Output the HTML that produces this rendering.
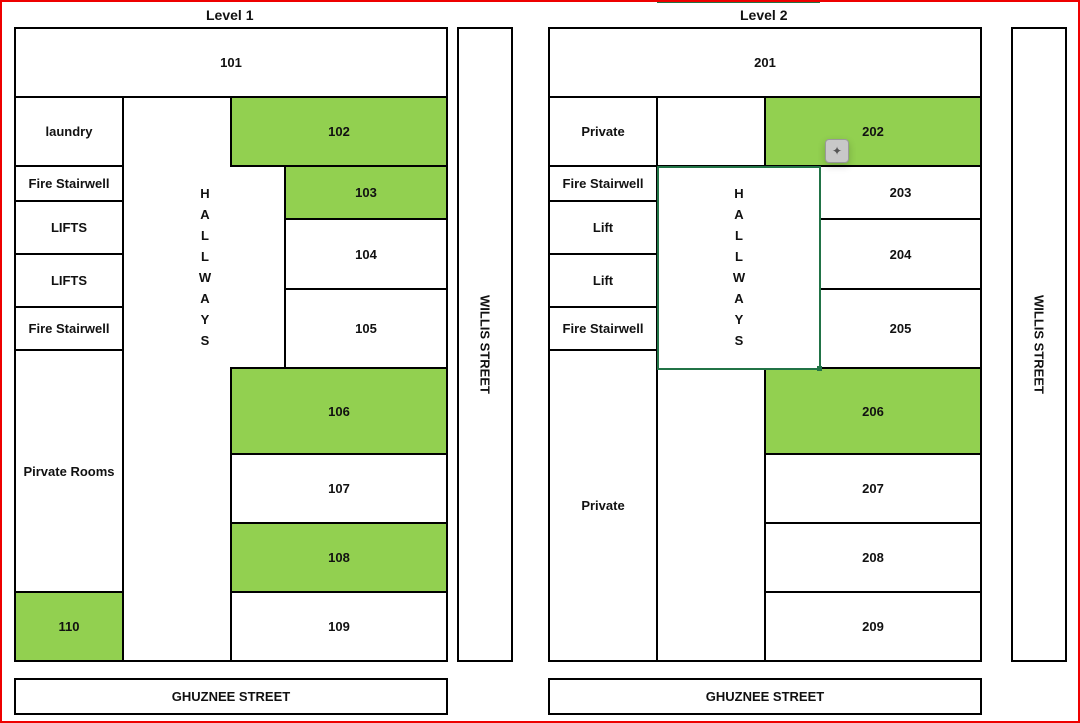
<!DOCTYPE html>
<html><head><meta charset="utf-8"><style>
body{margin:0;width:1080px;height:723px;background:#fff;position:relative;overflow:hidden;font-family:"Liberation Sans",Arial,sans-serif;}
.b{position:absolute;border:2px solid #000;box-sizing:border-box;display:flex;align-items:center;justify-content:center;font-weight:bold;font-size:13px;color:#111;background:#fff;text-align:center;}
.g{background:#92d050;}
.t{position:absolute;font-weight:bold;font-size:14px;color:#111;}
.hw{position:absolute;font-weight:bold;font-size:13px;line-height:21px;text-align:center;width:20px;color:#111;}
.v{writing-mode:vertical-rl;}
</style></head><body>
<div style="position:absolute;left:0;top:0;width:1080px;height:723px;border:2px solid #e00;box-sizing:border-box;z-index:10;pointer-events:none"></div>
<div style="position:absolute;left:657px;top:0;width:163px;height:3px;background:#217346"></div>
<div class="t" style="left:206px;top:7px">Level 1</div>
<div class="t" style="left:740px;top:7px">Level 2</div>

<!-- Level 1 -->
<div class="b" style="left:14px;top:27px;width:434px;height:71px">101</div>
<div class="b" style="left:122px;top:96px;width:110px;height:566px"></div>
<div class="b" style="left:122px;top:165px;width:164px;height:205px;border-top:none;border-bottom:none"></div>
<div class="b" style="left:124px;top:98px;width:106px;height:270px;border:none"></div>
<div class="b" style="left:124px;top:167px;width:160px;height:201px;border:none"></div>
<div class="b" style="left:14px;top:96px;width:110px;height:71px">laundry</div>
<div class="b" style="left:14px;top:165px;width:110px;height:37px">Fire Stairwell</div>
<div class="b" style="left:14px;top:200px;width:110px;height:55px">LIFTS</div>
<div class="b" style="left:14px;top:253px;width:110px;height:55px">LIFTS</div>
<div class="b" style="left:14px;top:306px;width:110px;height:45px">Fire Stairwell</div>
<div class="b" style="left:14px;top:349px;width:110px;height:244px">Pirvate Rooms</div>
<div class="b g" style="left:14px;top:591px;width:110px;height:71px">110</div>
<div class="b g" style="left:230px;top:96px;width:218px;height:71px">102</div>
<div class="b g" style="left:284px;top:165px;width:164px;height:55px">103</div>
<div class="b" style="left:284px;top:218px;width:164px;height:72px">104</div>
<div class="b" style="left:284px;top:288px;width:164px;height:81px">105</div>
<div class="b g" style="left:230px;top:367px;width:218px;height:88px">106</div>
<div class="b" style="left:230px;top:453px;width:218px;height:71px">107</div>
<div class="b g" style="left:230px;top:522px;width:218px;height:71px">108</div>
<div class="b" style="left:230px;top:591px;width:218px;height:71px">109</div>
<div class="hw" style="left:195px;top:183px">H<br>A<br>L<br>L<br>W<br>A<br>Y<br>S</div>
<div class="b" style="left:457px;top:27px;width:56px;height:635px"><span class="v">WILLIS STREET</span></div>
<div class="b" style="left:14px;top:678px;width:434px;height:37px">GHUZNEE STREET</div>

<!-- Level 2 -->
<div class="b" style="left:548px;top:27px;width:434px;height:71px">201</div>
<div class="b" style="left:548px;top:96px;width:110px;height:71px">Private</div>
<div class="b" style="left:656px;top:96px;width:110px;height:71px"></div>
<div class="b g" style="left:764px;top:96px;width:218px;height:71px">202</div>
<div class="b" style="left:548px;top:165px;width:110px;height:37px">Fire Stairwell</div>
<div class="b" style="left:548px;top:200px;width:110px;height:55px">Lift</div>
<div class="b" style="left:548px;top:253px;width:110px;height:55px">Lift</div>
<div class="b" style="left:548px;top:306px;width:110px;height:45px">Fire Stairwell</div>
<div class="b" style="left:548px;top:349px;width:110px;height:313px">Private</div>
<div class="b" style="left:819px;top:165px;width:163px;height:55px">203</div>
<div class="b" style="left:819px;top:218px;width:163px;height:72px">204</div>
<div class="b" style="left:819px;top:288px;width:163px;height:81px">205</div>
<div class="b" style="left:656px;top:367px;width:110px;height:295px"></div>
<div class="b g" style="left:764px;top:367px;width:218px;height:88px">206</div>
<div class="b" style="left:764px;top:453px;width:218px;height:71px">207</div>
<div class="b" style="left:764px;top:522px;width:218px;height:71px">208</div>
<div class="b" style="left:764px;top:591px;width:218px;height:71px">209</div>
<div class="b" style="left:657px;top:166px;width:164px;height:204px;border-color:#217346"></div>
<div style="position:absolute;left:817px;top:366px;width:5px;height:5px;background:#217346"></div>
<div class="hw" style="left:729px;top:183px">H<br>A<br>L<br>L<br>W<br>A<br>Y<br>S</div>
<div class="b" style="left:1011px;top:27px;width:56px;height:635px"><span class="v">WILLIS STREET</span></div>
<div class="b" style="left:548px;top:678px;width:434px;height:37px">GHUZNEE STREET</div>

<div style="position:absolute;left:825px;top:139px;width:24px;height:24px;background:#c8c8c8;border:1px solid #999;border-radius:4px;box-sizing:border-box;box-shadow:0 3px 8px rgba(0,0,0,.2);font-size:12px;color:#555;text-align:center;line-height:22px">✦</div>
</body></html>
